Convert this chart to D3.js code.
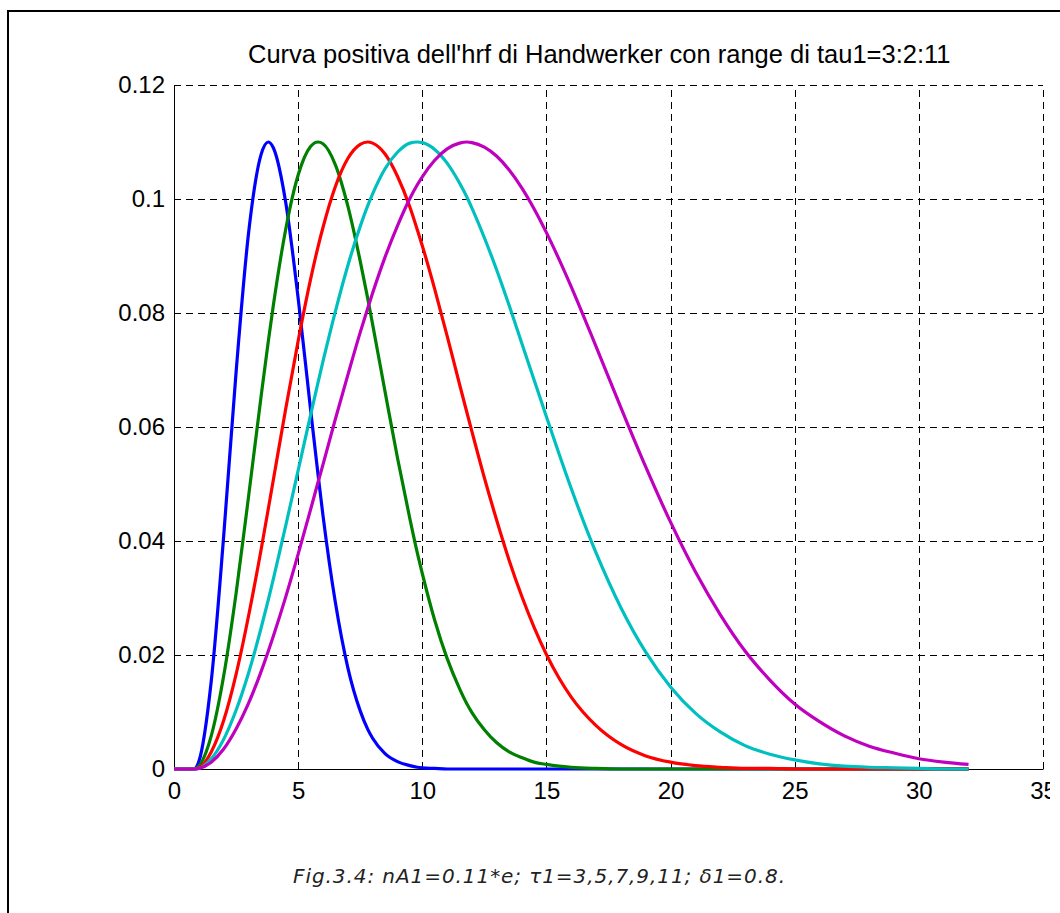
<!DOCTYPE html>
<html>
<head>
<meta charset="utf-8">
<script src="https://cdn.jsdelivr.net/npm/d3@7"></script>
<style>
  body { margin: 0; background: #fff; }
  svg { display: block; }
  .tick text { font-family: "Liberation Sans", Arial, sans-serif; font-size: 24px; fill: #000; }
  .title { font-family: "Liberation Sans", Arial, sans-serif; font-size: 25.5px; fill: #000; }
  .caption { font-family: "DejaVu Sans", Verdana, sans-serif; font-style: italic; font-size: 20px; fill: #222; }
</style>
</head>
<body>
<div id="chart"></div>
<script>
// time axis (s) shared by every curve
const time = [0, 0.8, 1, 1.5, 2, 2.5, 3, 3.5, 3.8, 4, 4.5, 5, 5.5, 5.8, 6, 6.5, 7, 7.5, 7.8, 8,
  8.5, 9, 9.5, 9.8, 10, 10.5, 11, 11.5, 11.8, 12, 12.5, 13, 13.5, 14, 14.5, 15, 15.5, 16,
  17, 18, 19, 20, 21, 22, 23, 24, 25, 26, 27, 28, 29, 30, 31, 32];

// hrf values, tau1 = 3, 5, 7, 9, 11
const hrfTau3 = [0, 0, 0.0013, 0.0154, 0.0408, 0.0696, 0.0939, 0.1077, 0.1100, 0.1090,
  0.0994, 0.0826, 0.0631, 0.0517, 0.0445, 0.0292, 0.0178, 0.0102, 0.0070, 0.0054,
  0.0027, 0.0013, 0.0006, 0.0003, 0.0002, 0.0001, 0, 0, 0, 0, 0, 0, 0, 0, 0, 0, 0, 0,
  0, 0, 0, 0, 0, 0, 0, 0, 0, 0, 0, 0, 0, 0, 0, 0];
const hrfTau5 = [0, 0, 0.0005, 0.0058, 0.0163, 0.0308, 0.0477, 0.0651, 0.0751, 0.0813,
  0.0947, 0.1042, 0.1092, 0.1100, 0.1097, 0.1060, 0.0988, 0.0891, 0.0826, 0.0780,
  0.0662, 0.0546, 0.0439, 0.0379, 0.0343, 0.0261, 0.0194, 0.0141, 0.0114, 0.0099,
  0.0069, 0.0046, 0.0030, 0.0020, 0.0012, 0.0008, 0.0005, 0.0003,
  0.0001, 0, 0, 0, 0, 0, 0, 0, 0, 0, 0, 0, 0, 0, 0, 0];
const hrfTau7 = [0, 0, 0.0002, 0.0030, 0.0085, 0.0166, 0.0268, 0.0383, 0.0457, 0.0507,
  0.0632, 0.0751, 0.0859, 0.0916, 0.0950, 0.1022, 0.1071, 0.1096, 0.1100, 0.1098,
  0.1079, 0.1040, 0.0986, 0.0946, 0.0918, 0.0842, 0.0760, 0.0675, 0.0625, 0.0592,
  0.0511, 0.0436, 0.0366, 0.0304, 0.0249, 0.0201, 0.0160, 0.0126,
  0.0076, 0.0043, 0.0023, 0.0012, 0.0006, 0.0003, 0.0001, 0.0001, 0, 0, 0, 0, 0, 0, 0, 0];
const hrfTau9 = [0, 0, 0.0001, 0.0018, 0.0052, 0.0103, 0.0168, 0.0246, 0.0297, 0.0333,
  0.0427, 0.0524, 0.0621, 0.0678, 0.0715, 0.0803, 0.0883, 0.0952, 0.0988, 0.1009,
  0.1053, 0.1082, 0.1098, 0.1100, 0.1099, 0.1087, 0.1063, 0.1028, 0.1003, 0.0984,
  0.0932, 0.0875, 0.0813, 0.0748, 0.0683, 0.0618, 0.0554, 0.0492,
  0.0379, 0.0283, 0.0205, 0.0144, 0.0098, 0.0065, 0.0041, 0.0026, 0.0016, 0.0009,
  0.0005, 0.0003, 0.0002, 0.0001, 0, 0];
const hrfTau11 = [0, 0, 0.0001, 0.0012, 0.0035, 0.0070, 0.0115, 0.0170, 0.0207, 0.0233,
  0.0302, 0.0377, 0.0455, 0.0503, 0.0534, 0.0614, 0.0691, 0.0766, 0.0808, 0.0835,
  0.0898, 0.0953, 0.1001, 0.1025, 0.1039, 0.1068, 0.1088, 0.1098, 0.1100, 0.1099,
  0.1091, 0.1075, 0.1051, 0.1020, 0.0983, 0.0941, 0.0895, 0.0846,
  0.0741, 0.0634, 0.0530, 0.0433, 0.0346, 0.0271, 0.0207, 0.0156, 0.0114, 0.0083,
  0.0058, 0.0040, 0.0028, 0.0018, 0.0012, 0.0008];

const seriesValues = [hrfTau3, hrfTau5, hrfTau7, hrfTau9, hrfTau11];
const seriesColors = ["#0000ff", "#008000", "#ff0000", "#00bfbf", "#bf00bf"];

const xTicks = [0, 5, 10, 15, 20, 25, 30, 35];
const yTicks = [0, 0.02, 0.04, 0.06, 0.08, 0.1, 0.12];
const yTickLabels = ["0", "0.02", "0.04", "0.06", "0.08", "0.1", "0.12"];

const titleText = "Curva positiva dell'hrf di Handwerker con range di tau1=3:2:11";
const captionText = "Fig.3.4: nA1=0.11*e; \u03c41=3,5,7,9,11; \u03b41=0.8.";

// dimensions
const W = 1060, H = 913;
const margin = {top: 85, right: 17, bottom: 144, left: 174};
const width = W - margin.left - margin.right;
const height = H - margin.top - margin.bottom;

const root = d3.select("#chart")
  .append("svg")
    .attr("width", W)
    .attr("height", H);

// figure frame (only top and left edges fall inside the picture)
root.append("rect")
    .attr("x", 8)
    .attr("y", 11)
    .attr("width", 1100)
    .attr("height", 1000)
    .attr("fill", "none")
    .attr("stroke", "#000")
    .attr("stroke-width", 2);

const svg = root.append("g")
    .attr("transform", `translate(${margin.left}, ${margin.top})`);

// the "35" label is cut at the right edge of the figure
svg.append("clipPath")
    .attr("id", "xclip")
  .append("rect")
    .attr("x", -margin.left)
    .attr("y", -100)
    .attr("width", 1050)
    .attr("height", 300);

const x = d3.scaleLinear().domain([0, 35]).range([0, width]);
const y = d3.scaleLinear().domain([0, 0.12]).range([height, 0]);

// dashed grid
svg.append("g")
  .selectAll("line")
  .data(xTicks.slice(1))
  .join("line")
    .attr("x1", d => Math.round(x(d)) + 0.5)
    .attr("x2", d => Math.round(x(d)) + 0.5)
    .attr("y1", y(0))
    .attr("y2", y(0.12))
    .attr("stroke", "#000")
    .attr("stroke-dasharray", "7,5");

svg.append("g")
  .selectAll("line")
  .data(yTicks.slice(1))
  .join("line")
    .attr("x1", x(0))
    .attr("x2", x(35))
    .attr("y1", d => Math.round(y(d)) + 0.5)
    .attr("y2", d => Math.round(y(d)) + 0.5)
    .attr("stroke", "#000")
    .attr("stroke-dasharray", "7,5");

// axes
svg.append("g")
    .attr("transform", `translate(0, ${height})`)
    .attr("clip-path", "url(#xclip)")
  .call(d3.axisBottom(x).tickValues(xTicks).tickFormat(d3.format("d"))
    .tickSize(0).tickSizeOuter(0).tickPadding(13))
  .call(g => g.select(".domain").attr("stroke", "#000"))
  .call(g => g.selectAll("text").attr("font-family", null).attr("font-size", null));

svg.append("g")
  .call(d3.axisLeft(y).tickValues(yTicks).tickFormat((d, i) => yTickLabels[i])
    .tickSize(0).tickSizeOuter(0).tickPadding(9))
  .call(g => g.select(".domain").attr("stroke", "#000"))
  .call(g => g.selectAll("text").attr("font-family", null).attr("font-size", null));

// curves
const line = d3.line()
    .x((d, i) => x(time[i]))
    .y(d => y(d))
    .curve(d3.curveMonotoneX);

svg.append("g")
  .selectAll("path")
  .data(seriesValues)
  .join("path")
    .attr("d", d => line(d))
    .attr("fill", "none")
    .attr("stroke", (d, i) => seriesColors[i])
    .attr("stroke-width", 3.2)
    .attr("stroke-linejoin", "round");

// title
root.append("text")
    .attr("class", "title")
    .attr("x", 248)
    .attr("y", 63)
  .text(titleText);

// caption
root.append("text")
    .attr("class", "caption")
    .attr("x", 293)
    .attr("y", 883)
    .attr("textLength", 492)
    .attr("lengthAdjust", "spacing")
  .text(captionText);
</script>
</body>
</html>
